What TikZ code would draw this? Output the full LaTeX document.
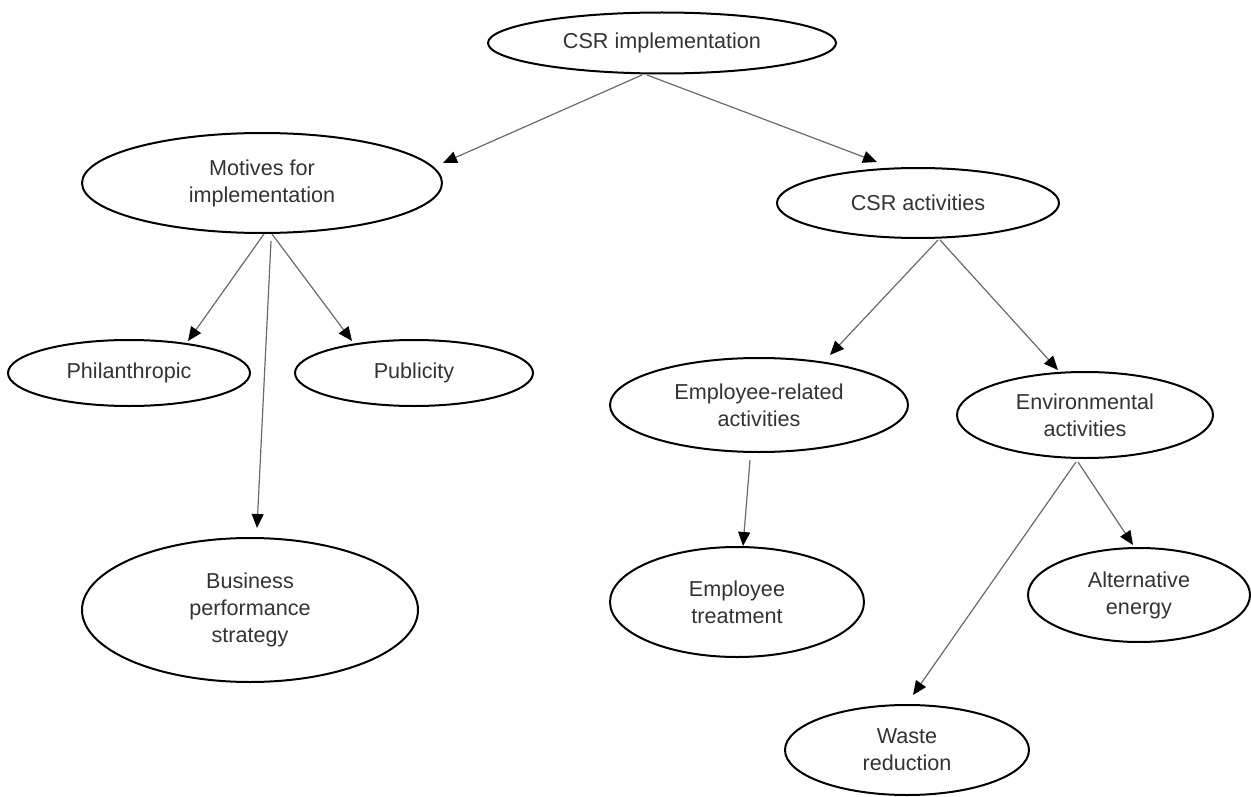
\documentclass[tikz,border=0pt]{standalone}
\usepackage{fontspec}
\setmainfont{Liberation Sans}
\usetikzlibrary{shapes.geometric,arrows.meta}
\definecolor{txtgray}{HTML}{333333}
\definecolor{linegray}{HTML}{6A6A6A}
\begin{document}
\begin{tikzpicture}[x=1pt,y=1pt,
  bubble/.style={ellipse,draw=black,line width=2pt,inner sep=0pt,
    align=center,text=txtgray,font=\fontsize{21.6}{27}\selectfont},
  arr/.style={draw=linegray,line width=1.2pt,
    -{Triangle[length=14pt,width=12pt,fill=black,color=black]}}]
\useasboundingbox (0,0) rectangle (1251,-797);
\fill[white] (0,0) rectangle (1251,-797);

% ellipses: centre, width, height
\node[bubble,minimum width=348pt,minimum height=61pt] (impl) at (662,-43) {CSR implementation};
\node[bubble,minimum width=360pt,minimum height=100pt] (motives) at (262,-183) {Motives for\\implementation};
\node[bubble,minimum width=282pt,minimum height=70pt] (activities) at (918,-203) {CSR activities};
\node[bubble,minimum width=242pt,minimum height=66pt] (philan) at (129,-373) {Philanthropic};
\node[bubble,minimum width=238pt,minimum height=66pt] (publicity) at (414,-373) {Publicity};
\node[bubble,minimum width=336pt,minimum height=144pt] (business) at (250,-610) {Business\\performance\\strategy};
\node[bubble,minimum width=298pt,minimum height=94pt] (emprel) at (759,-405) {Employee-related\\activities};
\node[bubble,minimum width=256pt,minimum height=86pt] (env) at (1085,-415) {Environmental\\activities};
\node[bubble,minimum width=254pt,minimum height=110pt] (treat) at (737,-602) {Employee\\treatment};
\node[bubble,minimum width=222pt,minimum height=94pt] (alt) at (1139,-595) {Alternative\\energy};
\node[bubble,minimum width=244pt,minimum height=90pt] (waste) at (907,-750) {Waste\\reduction};

% connectors
\draw[arr] ([shift={(-20,-32)}]impl.center) -- ([shift={(181,20)}]motives.center);
\draw[arr] ([shift={(-15,-32)}]impl.center) -- ([shift={(-41,41)}]activities.center);
\draw[arr] ([shift={(2,-51)}]motives.center) -- ([shift={(59,32)}]philan.center);
\draw[arr] ([shift={(10,-51)}]motives.center) -- ([shift={(-62,32)}]publicity.center);
\draw[arr] ([shift={(9,-58)}]motives.center) -- ([shift={(7,82)}]business.center);
\draw[arr] ([shift={(20,-37)}]activities.center) -- ([shift={(71,50)}]emprel.center);
\draw[arr] ([shift={(22,-37)}]activities.center) -- ([shift={(-27,45)}]env.center);
\draw[arr] ([shift={(-9,-55)}]emprel.center) -- ([shift={(6,56)}]treat.center);
\draw[arr] ([shift={(-7,-47)}]env.center) -- ([shift={(-6,50)}]alt.center);
\draw[arr] ([shift={(-9,-47)}]env.center) -- ([shift={(6,55)}]waste.center);
\end{tikzpicture}
\end{document}
